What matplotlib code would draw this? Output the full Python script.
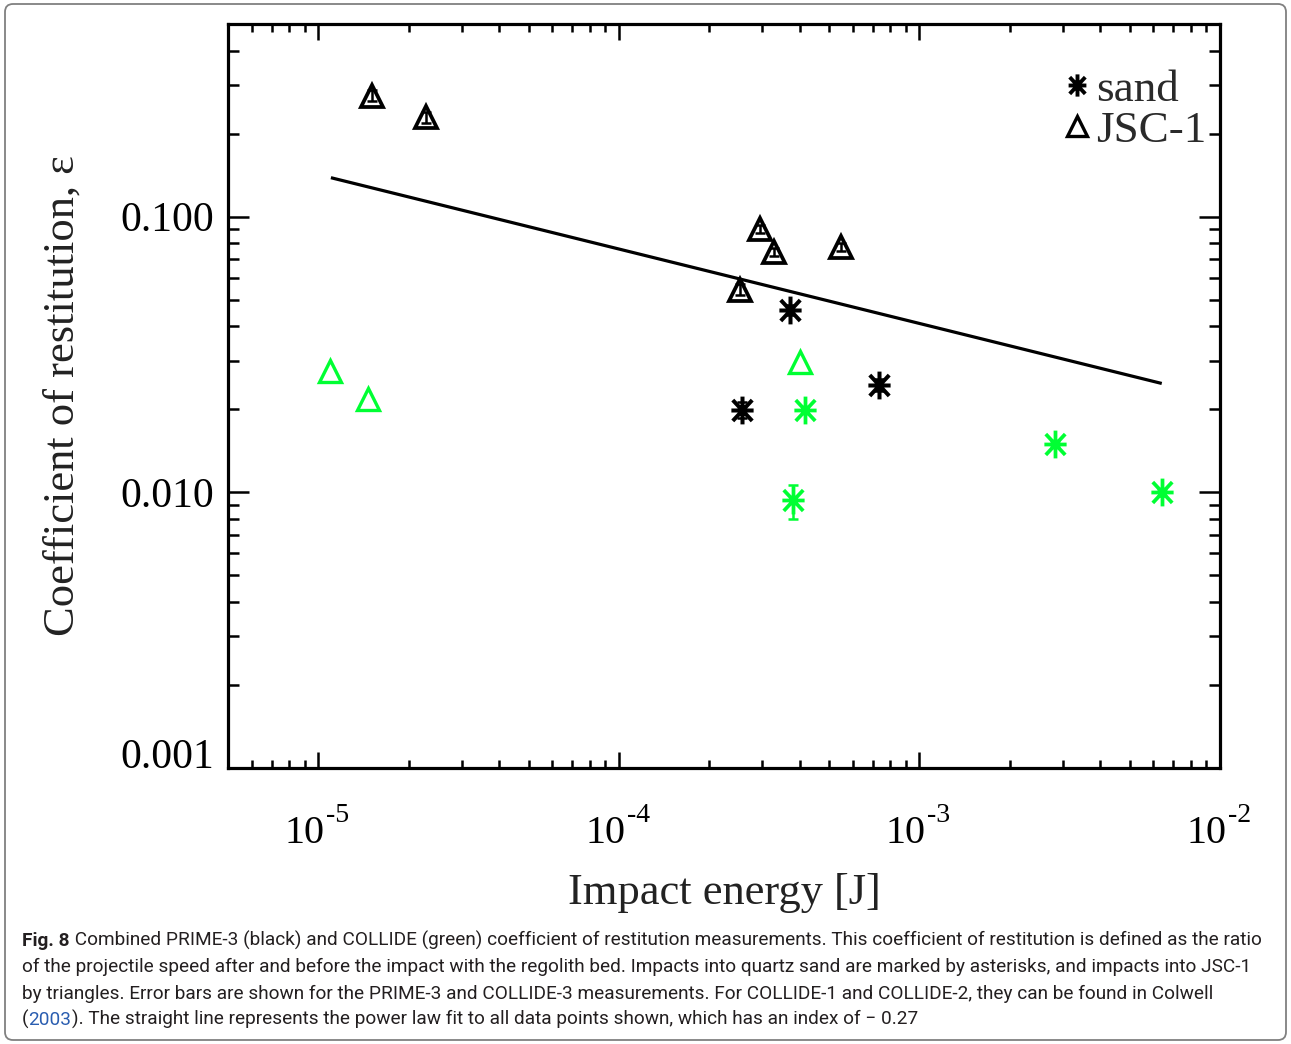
import numpy as np
import matplotlib
matplotlib.use('Agg')
import matplotlib.pyplot as plt
from matplotlib.lines import Line2D
from matplotlib.path import Path
from matplotlib.patches import FancyBboxPatch
from matplotlib.ticker import LogLocator, NullFormatter

plt.rcParams['font.family'] = ['Liberation Serif', 'DejaVu Serif']

GREEN = '#00ff33'

# PRIME-3 measurements (black)
prime_sand_E = [2.57e-4, 3.70e-4, 7.36e-4]
prime_sand_eps = [0.0199, 0.0459, 0.0245]
prime_sand_err = [0.0013, 0.0020, 0.0012]
prime_jsc_E = [1.51e-5, 2.28e-5, 2.52e-4, 2.94e-4, 3.27e-4, 5.47e-4]
prime_jsc_eps = [0.275, 0.229, 0.0543, 0.0905, 0.0746, 0.0778]
prime_jsc_err = [0.012, 0.010, 0.0025, 0.003, 0.0025, 0.0025]

# COLLIDE measurements (green)
collide_sand_E = [3.78e-4, 4.15e-4, 2.83e-3, 6.41e-3]
collide_sand_eps = [0.0094, 0.0199, 0.0150, 0.0100]
collide_sand_err_lo = [0.0014, 0.0, 0.0004, 0.0003]
collide_sand_err_hi = [0.0012, 0.0, 0.0004, 0.0003]
collide_jsc_E = [1.09e-5, 1.46e-5, 3.99e-4]
collide_jsc_eps = [0.0276, 0.0218, 0.0298]

# power law fit to all points
fit_index = -0.27
fit_E = [1.1e-5, 6.4e-3]
fit_eps0 = 0.1385

x_decades = [-5, -4, -3, -2]
y_ticks = [0.001, 0.01, 0.1]
y_ticklabels = ['0.001', '0.010', '0.100']

caption_lines = [
    [('Fig. 8', 'bold', None),
     (' Combined PRIME-3 (black) and COLLIDE (green) coefficient of restitution measurements. '
      'This coefficient of restitution is defined as the ratio', 'normal', None)],
    [('of the projectile speed after and before the impact with the regolith bed. Impacts into '
      'quartz sand are marked by asterisks, and impacts into JSC-1', 'normal', None)],
    [('by triangles. Error bars are shown for the PRIME-3 and COLLIDE-3 measurements. For '
      'COLLIDE-1 and COLLIDE-2, they can be found in Colwell', 'normal', None)],
    [('(', 'normal', None), ('2003', 'normal', '#2a5db0'),
     ('). The straight line represents the power law fit to all data points shown, '
      'which has an index of \u2212 0.27', 'normal', None)],
]

# IDL style asterisk: vertical, horizontal and two diagonal strokes
ast = Path([(0, -1), (0, 1), (-0.8, 0), (0.8, 0),
            (-0.7, -0.75), (0.7, 0.75), (-0.7, 0.75), (0.7, -0.75)],
           [Path.MOVETO, Path.LINETO] * 4)

fig = plt.figure(figsize=(12.91, 10.44), dpi=100)
fig.patch.set_facecolor('white')
frame = FancyBboxPatch((0.05, 0.04), 12.81, 10.36, boxstyle='round,pad=0,rounding_size=0.08',
                       transform=fig.dpi_scale_trans, fc='none', ec='#808080', lw=1.3)
fig.patches.append(frame)

ax = fig.add_axes([228 / 1291, 1 - 768 / 1044, 992 / 1291, 744 / 1044])
ax.set_xscale('log')
ax.set_yscale('log')
ax.set_xlim(5e-6, 1e-2)
ax.set_ylim(0.001, 0.5)

fx = np.array(fit_E)
ax.plot(fx, fit_eps0 * (fx / fx[0]) ** fit_index, color='k', lw=2.3, solid_capstyle='butt')

ebkw = dict(fmt='none', elinewidth=1.8, capsize=3.5, capthick=1.8)
ax.errorbar(prime_jsc_E, prime_jsc_eps, yerr=prime_jsc_err, ecolor='k', **ebkw)
ax.errorbar(prime_sand_E, prime_sand_eps, yerr=prime_sand_err, ecolor='k', **ebkw)
ax.errorbar(collide_sand_E, collide_sand_eps, yerr=[collide_sand_err_lo, collide_sand_err_hi],
            ecolor=GREEN, **ebkw)

ax.plot(prime_jsc_E, prime_jsc_eps, ls='none', marker='^', ms=16, mfc='none', mec='k', mew=2.7)
ax.plot(prime_sand_E, prime_sand_eps, ls='none', marker=ast, ms=20, mec='k', mew=2.9)
ax.plot(collide_jsc_E, collide_jsc_eps, ls='none', marker='^', ms=16, mfc='none', mec=GREEN, mew=2.4)
ax.plot(collide_sand_E, collide_sand_eps, ls='none', marker=ast, ms=20, mec=GREEN, mew=2.7)

for s in ax.spines.values():
    s.set_linewidth(2.3)

ax.set_xticks([10.0 ** d for d in x_decades])
ax.xaxis.set_major_formatter(NullFormatter())
ax.xaxis.set_minor_locator(LogLocator(base=10, subs=np.arange(2, 10), numticks=20))
ax.xaxis.set_minor_formatter(NullFormatter())
ax.set_yticks(y_ticks)
ax.set_yticklabels(y_ticklabels)
ax.yaxis.set_minor_locator(LogLocator(base=10, subs=np.arange(2, 10), numticks=20))
ax.yaxis.set_minor_formatter(NullFormatter())
ax.get_yticklabels()[0].set_va('baseline')

ax.tick_params(which='both', direction='in', top=True, right=True, color='k')
ax.tick_params(axis='x', which='major', length=11.5, width=1.8)
ax.tick_params(axis='x', which='minor', length=5.8, width=1.8)
ax.tick_params(axis='y', which='major', length=15, width=1.8, labelsize=30, pad=10)
ax.tick_params(axis='y', which='minor', length=8, width=1.8)

# decade labels 10^n with a plain hyphen in the exponent
xt = ax.get_xaxis_transform()
for d in x_decades:
    ax.annotate('10', xy=(10.0 ** d, 0), xycoords=xt, xytext=(4.5, -54),
                textcoords='offset points', ha='right', va='baseline', fontsize=29,
                annotation_clip=False)
    ax.annotate('-%d' % abs(d), xy=(10.0 ** d, 0), xycoords=xt, xytext=(5.5, -39),
                textcoords='offset points', ha='left', va='baseline', fontsize=20,
                annotation_clip=False)

ax.set_xlabel('Impact energy [J]', fontsize=32, labelpad=72, color='#222222')
ax.set_ylabel('Coefficient of restitution, \u03b5', fontsize=32, labelpad=27, color='#222222')

handles = [Line2D([], [], ls='none', marker=ast, ms=16, mec='k', mew=2.8),
           Line2D([], [], ls='none', marker='^', ms=14, mfc='none', mec='k', mew=2.4)]
ax.legend(handles, ['sand', 'JSC-1'], loc='upper right', bbox_to_anchor=(1.014, 0.975),
          frameon=False, fontsize=32.5, handlelength=0.6, handletextpad=0.12,
          labelspacing=0.0, borderaxespad=0.2, labelcolor='#2a2a2a')

# caption, fitted to the text block width
renderer = fig.canvas.get_renderer()
cap_font = ['Roboto', 'DejaVu Sans']
probe = fig.text(0, 0, ''.join(p[0] for p in caption_lines[0]), fontsize=12, family=cap_font)
w = probe.get_window_extent(renderer).width
probe.remove()
cap_size = 12 * 1238 / w

baselines = [946, 972, 999, 1025]
for parts, yb in zip(caption_lines, baselines):
    x = 22
    for txt, weight, col in parts:
        t = fig.text(x / 1291, 1 - yb / 1044, txt, fontsize=cap_size, family=cap_font,
                     fontweight=weight, color=col or '#231f20', va='baseline', ha='left')
        x = t.get_window_extent(renderer).x1

fig.savefig('out.png', dpi=100, facecolor='white')
